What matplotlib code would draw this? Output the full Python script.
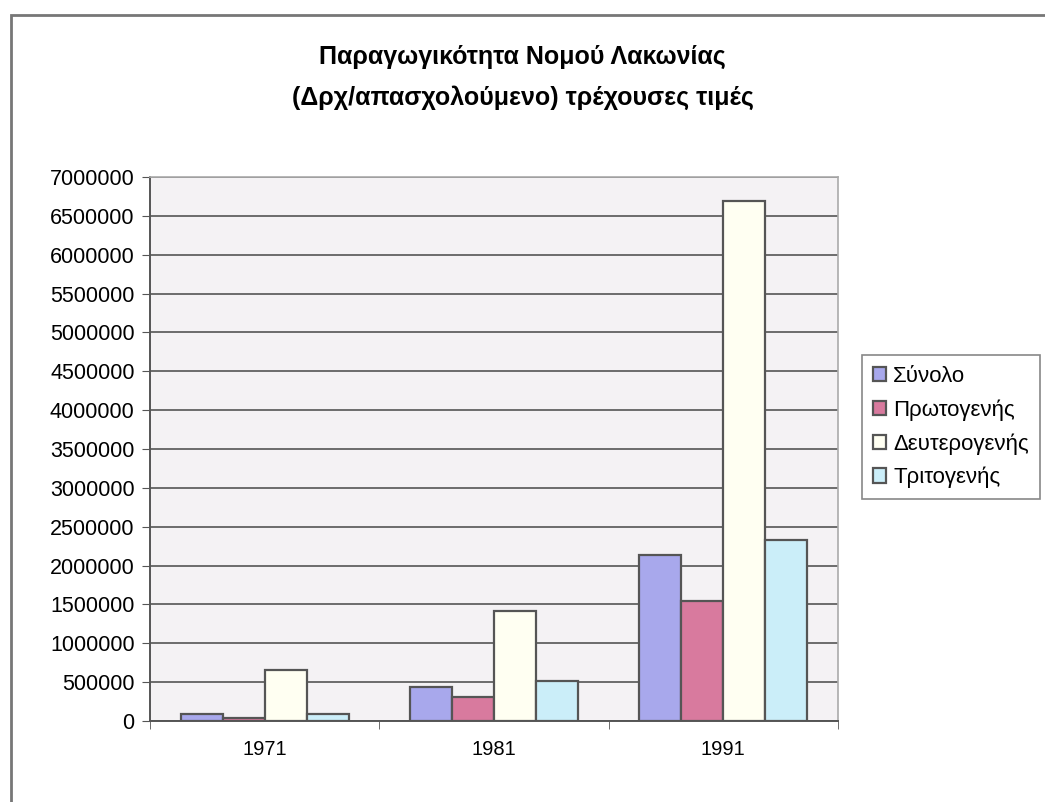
import numpy as np
import matplotlib.pyplot as plt
from matplotlib.patches import Rectangle

plt.rcParams['font.family'] = ['Liberation Sans', 'DejaVu Sans']

# Παραγωγικότητα ανά απασχολούμενο, τρέχουσες τιμές (Δρχ)
years = ['1971', '1981', '1991']
synolo = [90000, 440000, 2140000]
protogenis = [40000, 310000, 1550000]
defterogenis = [650000, 1420000, 6690000]
tritogenis = [90000, 520000, 2330000]

series = [('Σύνολο', synolo, '#a8a8ec'),
          ('Πρωτογενής', protogenis, '#d87a9e'),
          ('Δευτερογενής', defterogenis, '#fffff2'),
          ('Τριτογενής', tritogenis, '#cbeef9')]

fig = plt.figure(figsize=(10.45, 8.02), dpi=100)
fig.patch.set_facecolor('white')

# πλαίσιο γραφήματος
fig.patches.append(Rectangle((11 / 1045, -0.05), 1.1, (802 - 15) / 802 + 0.05,
                             transform=fig.transFigure, fill=False,
                             edgecolor='#777777', linewidth=2))

ax = fig.add_axes([150 / 1045, 81 / 802, 688 / 1045, 544 / 802])
ax.set_facecolor('#f4f2f4')

x = np.arange(len(years))
w = 0.183
for i, (name, vals, col) in enumerate(series):
    ax.bar(x + (i - 1.5) * w, vals, width=w, color=col, edgecolor='#555555',
           linewidth=1.6, label=name, zorder=3)

ax.set_xlim(-0.5, 2.5)
ax.set_ylim(0, 7000000)
ax.set_yticks(np.arange(0, 7000001, 500000))
ax.set_yticklabels([str(v) for v in range(0, 7000001, 500000)])
ax.yaxis.grid(True, color='#555555', linewidth=1.2, zorder=0)
ax.set_axisbelow(True)

ax.set_xticks(x)
ax.set_xticklabels(years)
ax.set_xticks([-0.5, 0.5, 1.5, 2.5], minor=True)
ax.tick_params(axis='x', which='major', length=0, pad=14, labelsize=14.5)
ax.tick_params(axis='x', which='minor', length=6, color='#555555')
ax.tick_params(axis='y', length=6, color='#555555', labelsize=15.5, pad=5)

for s in ['left', 'bottom']:
    ax.spines[s].set_color('#555555')
    ax.spines[s].set_linewidth(1.4)
for s in ['top', 'right']:
    ax.spines[s].set_color('#aaaaaa')
    ax.spines[s].set_linewidth(1.2)

fig.text(0.5, 1 - 57 / 802, 'Παραγωγικότητα Νομού Λακωνίας', ha='center',
         va='center', fontsize=18, fontweight='bold')
fig.text(0.5, 1 - 98 / 802, '(Δρχ/απασχολούμενο) τρέχουσες τιμές', ha='center',
         va='center', fontsize=18, fontweight='bold')

leg = fig.legend(loc='upper left', bbox_to_anchor=(862 / 1045, 1 - 355 / 802),
                 fontsize=16, frameon=True, fancybox=False, framealpha=1,
                 edgecolor='#888888', handlelength=0.6, handleheight=0.6,
                 handletextpad=0.3, labelspacing=0.55, borderpad=0.5,
                 borderaxespad=0)
leg.get_frame().set_linewidth(1.2)

fig.savefig('out.png', dpi=100)
